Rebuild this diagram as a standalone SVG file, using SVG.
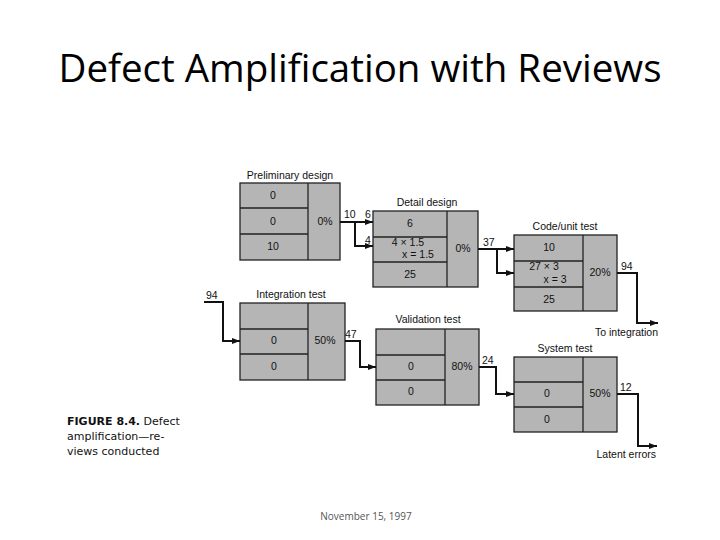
<svg xmlns="http://www.w3.org/2000/svg" width="720" height="540" viewBox="0 0 720 540">
<defs>
<marker id="ah" markerWidth="8" markerHeight="6" refX="8" refY="3" orient="auto" markerUnits="userSpaceOnUse"><path d="M0,0 L8,3 L0,6 z" fill="#111"/></marker>
</defs>
<style>
.box{fill:#b5b5b5;stroke:#222;stroke-width:1.3}
.ln{stroke:#222;stroke-width:1.3}
.t{font-family:"Liberation Sans",Arial,sans-serif;font-size:10.5px;fill:#111;text-anchor:middle}
.lb{font-family:"Liberation Sans",Arial,sans-serif;font-size:10.5px;fill:#111}
.c{fill:none;stroke:#111;stroke-width:2}
</style>
<rect width="720" height="540" fill="#fff"/>
<text x="360" y="82" font-family="'Open Sans','Liberation Sans',sans-serif" font-size="38.5" text-anchor="middle" fill="#000">Defect Amplification with Reviews</text>
<text x="366" y="520" font-family="'Open Sans','Liberation Sans',sans-serif" font-size="10" text-anchor="middle" fill="#555">November 15, 1997</text>

<g id="prelim">
<text class="t" x="290" y="179">Preliminary design</text>
<rect class="box" x="240" y="183" width="100" height="77"/>
<line class="ln" x1="308" y1="183" x2="308" y2="260"/>
<line class="ln" x1="240" y1="208" x2="308" y2="208"/>
<line class="ln" x1="240" y1="234" x2="308" y2="234"/>
<text class="t" x="273" y="199">0</text><text class="t" x="273" y="225">0</text><text class="t" x="273" y="250">10</text>
<text class="t" x="325" y="225">0%</text>
</g>
<g id="detail">
<text class="t" x="427" y="206">Detail design</text>
<rect class="box" x="373" y="211" width="105" height="76"/>
<line class="ln" x1="447" y1="211" x2="447" y2="287"/>
<line class="ln" x1="373" y1="237" x2="447" y2="237"/>
<line class="ln" x1="373" y1="262" x2="447" y2="262"/>
<text class="t" x="410" y="227">6</text><text class="t" x="408" y="246">4 × 1.5</text><text class="t" x="418" y="258">x = 1.5</text><text class="t" x="410" y="278">25</text>
<text class="t" x="463" y="252">0%</text>
</g>
<g id="code">
<text class="t" x="565" y="230">Code/unit test</text>
<rect class="box" x="514" y="235" width="103" height="76"/>
<line class="ln" x1="583" y1="235" x2="583" y2="311"/>
<line class="ln" x1="514" y1="261" x2="583" y2="261"/>
<line class="ln" x1="514" y1="287" x2="583" y2="287"/>
<text class="t" x="549" y="251">10</text><text class="t" x="544" y="270">27 × 3</text><text class="t" x="555" y="283">x = 3</text><text class="t" x="549" y="303">25</text>
<text class="t" x="600" y="276">20%</text>
</g>
<g id="integration">
<text class="t" x="291" y="298">Integration test</text>
<rect class="box" x="240" y="303" width="105" height="77"/>
<line class="ln" x1="308" y1="303" x2="308" y2="380"/>
<line class="ln" x1="240" y1="329" x2="308" y2="329"/>
<line class="ln" x1="240" y1="354" x2="308" y2="354"/>
<text class="t" x="274" y="344">0</text><text class="t" x="274" y="370">0</text>
<text class="t" x="325" y="344">50%</text>
</g>
<g id="validation">
<text class="t" x="428" y="323">Validation test</text>
<rect class="box" x="376" y="329" width="103" height="76"/>
<line class="ln" x1="445" y1="329" x2="445" y2="405"/>
<line class="ln" x1="376" y1="355" x2="445" y2="355"/>
<line class="ln" x1="376" y1="380" x2="445" y2="380"/>
<text class="t" x="411" y="370">0</text><text class="t" x="411" y="395">0</text>
<text class="t" x="462" y="370">80%</text>
</g>
<g id="system">
<text class="t" x="565" y="352">System test</text>
<rect class="box" x="514" y="357" width="103" height="75"/>
<line class="ln" x1="583" y1="357" x2="583" y2="432"/>
<line class="ln" x1="514" y1="382" x2="583" y2="382"/>
<line class="ln" x1="514" y1="407" x2="583" y2="407"/>
<text class="t" x="547" y="397">0</text><text class="t" x="547" y="423">0</text>
<text class="t" x="600" y="397">50%</text>
</g>

<g id="connectors">
<path class="c" d="M340,222 H355 V246 H373" marker-end="url(#ah)"/>
<path class="c" d="M355,222 H373" marker-end="url(#ah)"/>
<path class="c" d="M478,249 H497 V273 H514" marker-end="url(#ah)"/>
<path class="c" d="M497,249 H514" marker-end="url(#ah)"/>
<path class="c" d="M617,273 H637 V323 H658" marker-end="url(#ah)"/>
<path class="c" d="M204,302 H223 V341 H240" marker-end="url(#ah)"/>
<path class="c" d="M345,341 H360 V367 H376" marker-end="url(#ah)"/>
<path class="c" d="M479,367 H496 V394 H514" marker-end="url(#ah)"/>
<path class="c" d="M617,394 H638 V446 H657" marker-end="url(#ah)"/>
<text class="lb" x="344" y="218">10</text><text class="lb" x="365" y="218">6</text><text class="lb" x="365" y="244">4</text>
<text class="lb" x="483" y="246">37</text>
<text class="lb" x="621" y="270">94</text>
<text class="lb" x="206" y="299">94</text>
<text class="lb" x="345" y="338">47</text>
<text class="lb" x="482" y="364">24</text>
<text class="lb" x="620" y="391">12</text>
<text class="lb" x="658" y="336" text-anchor="end">To integration</text>
<text class="lb" x="656" y="458" text-anchor="end">Latent errors</text>
</g>

<g id="caption" font-family="'DejaVu Sans','Liberation Sans',sans-serif" font-size="11" fill="#111">
<text x="67" y="425"><tspan font-weight="bold">FIGURE 8.4.</tspan> Defect</text>
<text x="67" y="440">amplification—re-</text>
<text x="67" y="455">views conducted</text>
</g>
</svg>
